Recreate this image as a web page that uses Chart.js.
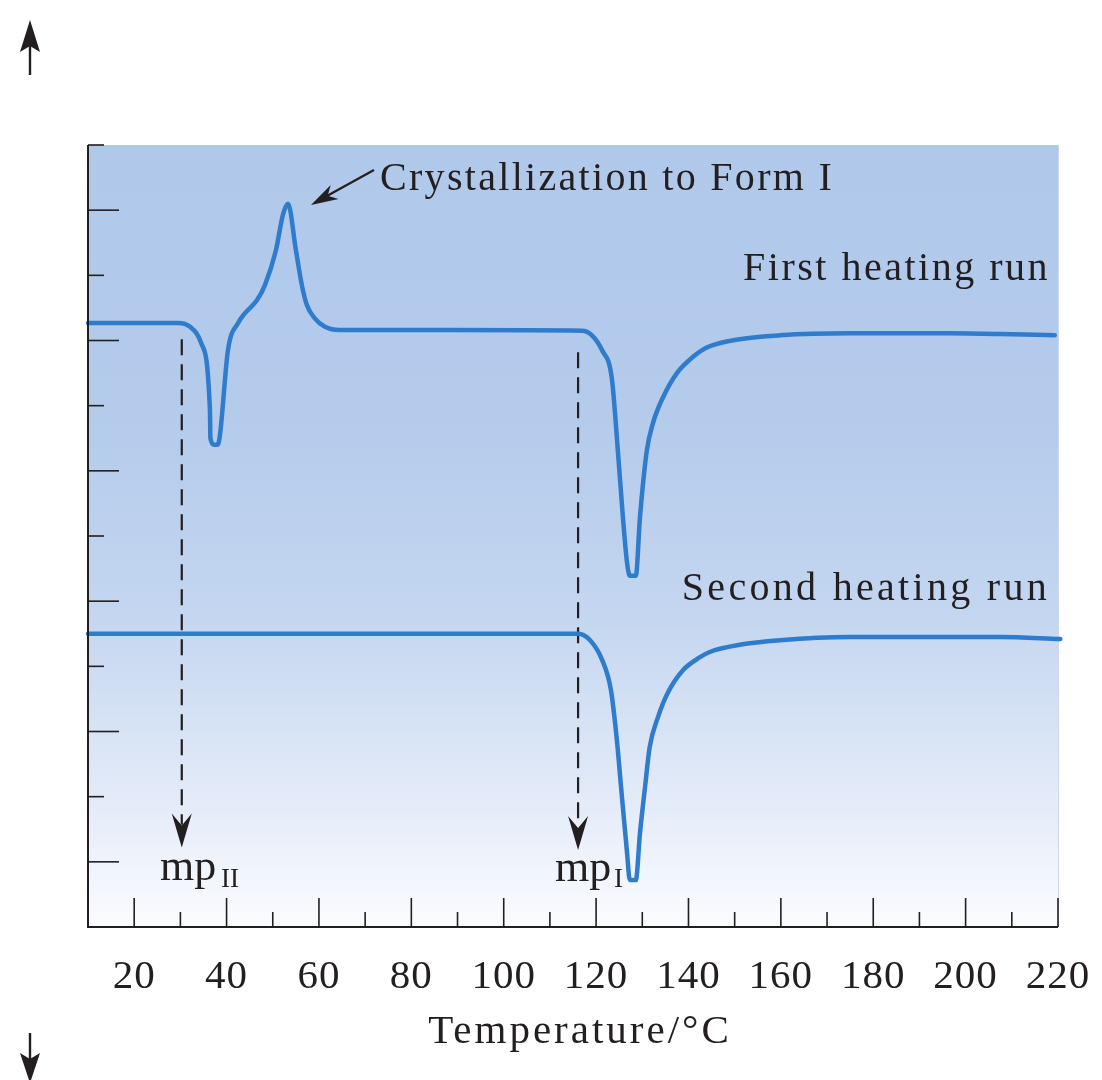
<!DOCTYPE html>
<html>
<head>
<meta charset="utf-8">
<title>DSC heating runs</title>
<script src="https://cdn.jsdelivr.net/npm/chart.js@4.4.1/dist/chart.umd.min.js"></script>
<style>
  html, body { margin: 0; padding: 0; background: #ffffff; }
  #wrap { width: 1102px; height: 1080px; }
</style>
</head>
<body>
<div id="wrap"><canvas id="dscChart" width="1102" height="1080"></canvas></div>
<script>
// Temperature (°C) and heat-flow readings (arbitrary units, 0..12)
const firstRunT = [10, 29.5, 32.1, 34.5, 36.4, 36.5, 37.3, 38.1, 38.6, 40.3, 42.5, 44.0, 46.6, 48.3, 50.7, 52.2, 53.3, 55.0, 56.3, 57.4, 59.1, 61.3, 64.5, 88.4, 116.9, 119.1, 121.3, 123.4, 124.7, 125.8, 126.7, 127.3, 128.6, 129.5, 131.0, 132.3, 134.5, 137.5, 141.0, 144.2, 151.1, 159.8, 174.9, 196.6, 207.4, 219.3];
const firstRunY = [9.27, 9.27, 9.21, 8.96, 7.93, 7.50, 7.40, 7.40, 7.57, 8.85, 9.27, 9.42, 9.62, 9.85, 10.39, 10.93, 11.10, 10.39, 9.85, 9.54, 9.34, 9.21, 9.16, 9.16, 9.15, 9.08, 8.85, 8.42, 7.32, 6.29, 5.59, 5.39, 5.39, 6.29, 7.32, 7.73, 8.13, 8.50, 8.75, 8.90, 9.02, 9.08, 9.11, 9.11, 9.10, 9.08];

const secondRunT = [10, 116.1, 118.7, 121.3, 123.2, 124.5, 125.4, 126.7, 127.3, 128.6, 129.5, 130.6, 131.6, 133.4, 135.5, 138.8, 142.5, 144.6, 151.1, 159.8, 174.9, 207.4, 220.5];
const secondRunY = [4.50, 4.50, 4.40, 4.10, 3.64, 2.87, 2.15, 1.14, 0.72, 0.72, 1.44, 2.15, 2.76, 3.22, 3.59, 3.94, 4.14, 4.22, 4.33, 4.40, 4.45, 4.45, 4.42];

// melting point markers (dashed arrows)
const mpNames = ["II", "I"];
const mpT = [30.3, 116.1];
const mpTopY = [9.02, 8.82];
const mpTipY = [1.22, 1.18];

// axis ticks
const xTickValues = [20, 30, 40, 50, 60, 70, 80, 90, 100, 110, 120, 130, 140, 150, 160, 170, 180, 190, 200, 210, 220];
const xTickLabels = ["20", "40", "60", "80", "100", "120", "140", "160", "180", "200", "220"];
const yTickValues = [1, 2, 3, 4, 5, 6, 7, 8, 9, 10, 11, 12];

const lineBlue = "#2f7bcc";
const ink = "#231f20";
const serif = "'Liberation Serif', 'DejaVu Serif', serif";

function toPoints(xs, ys) {
  return xs.map((x, i) => ({ x: x, y: ys[i] }));
}

// draws a notched arrowhead with its tip at (x, y) pointing along angle
function arrowHead(ctx, x, y, angle, len, halfW, notch) {
  ctx.save();
  ctx.translate(x, y);
  ctx.rotate(angle);
  ctx.beginPath();
  ctx.moveTo(0, 0);
  ctx.lineTo(-len, -halfW);
  ctx.lineTo(-len + notch, 0);
  ctx.lineTo(-len, halfW);
  ctx.closePath();
  ctx.fillStyle = ink;
  ctx.fill();
  ctx.restore();
}

const backdrop = {
  id: "backdrop",
  beforeDatasetsDraw(chart) {
    const { ctx, chartArea: a } = chart;
    const g = ctx.createLinearGradient(0, a.top, 0, a.bottom);
    g.addColorStop(0, "rgb(176,200,234)");
    g.addColorStop(0.35, "rgb(180,203,236)");
    g.addColorStop(0.6, "rgb(196,214,240)");
    g.addColorStop(0.85, "rgb(229,236,249)");
    g.addColorStop(1, "rgb(251,252,255)");
    ctx.save();
    ctx.fillStyle = g;
    ctx.fillRect(a.left, a.top, a.right - a.left, a.bottom - a.top);
    ctx.strokeStyle = "rgba(170,190,220,0.6)";
    ctx.lineWidth = 1;
    ctx.beginPath();
    ctx.moveTo(a.right + 0.5, a.top);
    ctx.lineTo(a.right + 0.5, a.bottom);
    ctx.stroke();
    ctx.restore();
  }
};

const decorations = {
  id: "decorations",
  afterDatasetsDraw(chart) {
    const { ctx, chartArea: a, scales } = chart;
    const xs = scales.x, ys = scales.y;
    ctx.save();

    // axes
    ctx.strokeStyle = ink;
    ctx.lineWidth = 2;
    ctx.beginPath();
    ctx.moveTo(a.left, a.top);
    ctx.lineTo(a.left, a.bottom);
    ctx.lineTo(a.right, a.bottom);
    ctx.stroke();

    // inward ticks
    ctx.lineWidth = 1.6;
    xTickValues.forEach(v => {
      const px = xs.getPixelForValue(v);
      const len = v % 20 === 0 ? 29 : 15;
      ctx.beginPath();
      ctx.moveTo(px, a.bottom);
      ctx.lineTo(px, a.bottom - len);
      ctx.stroke();
    });
    yTickValues.forEach(v => {
      const py = ys.getPixelForValue(v);
      const len = v % 2 === 1 ? 31 : 16;
      ctx.beginPath();
      ctx.moveTo(a.left, py);
      ctx.lineTo(a.left + len, py);
      ctx.stroke();
    });

    // tick labels and axis title
    ctx.fillStyle = ink;
    ctx.textBaseline = "alphabetic";
    ctx.textAlign = "center";
    ctx.font = "41px " + serif;
    ctx.letterSpacing = "1px";
    xTickLabels.forEach(lbl => {
      ctx.fillText(lbl, xs.getPixelForValue(Number(lbl)), 988);
    });
    ctx.letterSpacing = "3px";
    ctx.fillText("Temperature/°C", 580, 1043);

    // melting point arrowheads and labels
    mpT.forEach((t, i) => {
      const px = xs.getPixelForValue(t);
      arrowHead(ctx, px, ys.getPixelForValue(mpTipY[i]), Math.PI / 2, 34, 10, 12);
    });
    ctx.textAlign = "left";
    ctx.letterSpacing = "0px";
    ctx.font = "44px " + serif;
    ctx.fillText("mp", 160, 880);
    ctx.fillText("mp", 555, 881);
    ctx.font = "27px " + serif;
    ctx.fillText(mpNames[0], 221, 887);
    ctx.fillText(mpNames[1], 614, 887);

    // curve labels
    ctx.font = "40px " + serif;
    ctx.letterSpacing = "2.5px";
    ctx.textAlign = "right";
    ctx.fillText("First heating run", 1050, 280);
    ctx.letterSpacing = "3.3px";
    ctx.fillText("Second heating run", 1050, 600);
    ctx.textAlign = "left";
    ctx.letterSpacing = "2.3px";
    ctx.fillText("Crystallization to Form I", 380, 190);
    ctx.letterSpacing = "0px";

    // pointer to the crystallization peak
    ctx.strokeStyle = ink;
    ctx.lineWidth = 2.2;
    ctx.beginPath();
    ctx.moveTo(374, 170);
    ctx.lineTo(325, 197);
    ctx.stroke();
    arrowHead(ctx, 311, 205, Math.atan2(205 - 170, 311 - 374), 27, 8, 8);

    // up / down arrows at the left margin
    ctx.lineWidth = 2.4;
    ctx.beginPath();
    ctx.moveTo(30, 75);
    ctx.lineTo(30, 40);
    ctx.moveTo(30, 1033);
    ctx.lineTo(30, 1065);
    ctx.stroke();
    arrowHead(ctx, 30, 20, -Math.PI / 2, 32, 10, 6);
    arrowHead(ctx, 30, 1083, Math.PI / 2, 30, 10, 6);

    ctx.restore();
  }
};

const mpDatasets = mpT.map((t, i) => ({
  label: "mp" + mpNames[i],
  data: [{ x: t, y: mpTopY[i] }, { x: t, y: mpTipY[i] + 0.35 }],
  borderColor: ink,
  borderWidth: 2.2,
  borderDash: [16, 9],
  pointRadius: 0,
  order: 2
}));

const runStyle = {
  borderColor: lineBlue,
  borderWidth: 4.5,
  borderJoinStyle: "round",
  borderCapStyle: "round",
  pointRadius: 0,
  cubicInterpolationMode: "monotone",
  clip: false,
  order: 1
};

const chartCtx = document.getElementById("dscChart").getContext("2d");
const dscChart = new Chart(chartCtx, {
  type: "line",
  data: {
    datasets: [
      Object.assign({ label: "First heating run", data: toPoints(firstRunT, firstRunY) }, runStyle),
      Object.assign({ label: "Second heating run", data: toPoints(secondRunT, secondRunY) }, runStyle),
      ...mpDatasets
    ]
  },
  options: {
    responsive: false,
    animation: false,
    layout: { padding: { left: 88, right: 44, top: 145, bottom: 153 } },
    plugins: { legend: { display: false }, tooltip: { enabled: false } },
    scales: {
      x: { type: "linear", min: 10, max: 220, display: false },
      y: { type: "linear", min: 0, max: 12, display: false }
    }
  },
  plugins: [backdrop, decorations]
});
</script>
</body>
</html>
